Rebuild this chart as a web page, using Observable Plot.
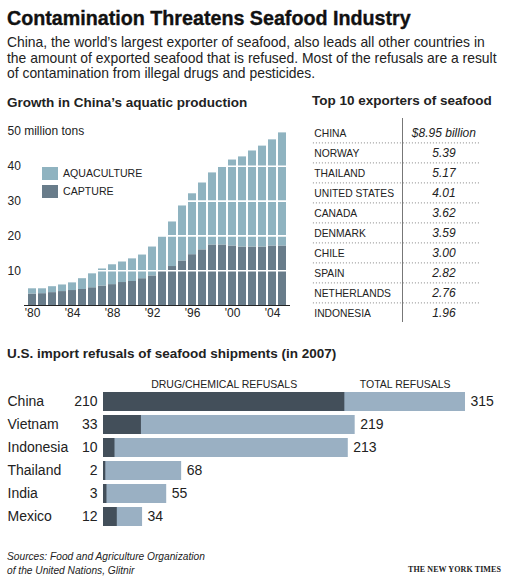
<!DOCTYPE html>
<html>
<head>
<meta charset="utf-8">
<script src="https://cdn.jsdelivr.net/npm/d3@7"></script>
<script src="https://cdn.jsdelivr.net/npm/@observablehq/plot@0.6"></script>
<style>
  body { margin: 0; background: #fff; font-family: "Liberation Sans", Arial, sans-serif; color: #111; }
  #root { position: relative; width: 507px; height: 582px; overflow: hidden; }
  .abs { position: absolute; white-space: nowrap; }
  .title { left: 7px; top: 7px; font-size: 19.7px; font-weight: bold; line-height: 22px; -webkit-text-stroke: 0.35px #111; }
  .sub { left: 7px; top: 35px; font-size: 13.9px; line-height: 15.5px; color: #222; }
  .head { font-size: 13.5px; font-weight: bold; line-height: 16px; color: #222; }
  .leg { font-size: 10.6px; color: #222; line-height: 13px; }
  .sw { display: inline-block; width: 16px; height: 13px; vertical-align: top; margin-right: 5px; }
  .src { left: 7px; top: 550px; font-size: 10.2px; font-style: italic; line-height: 14px; color: #222; }
  .nyt { left: 408px; top: 565px; font-family: "Liberation Serif", "DejaVu Serif", serif; font-size: 8px; font-weight: bold; color: #222; letter-spacing: 0.1px; }
  svg { overflow: visible; }
</style>
</head>
<body>
<div id="root">
  <div class="abs title">Contamination Threatens Seafood Industry</div>
  <div class="abs sub">China, the world’s largest exporter of seafood, also leads all other countries in<br>the amount of exported seafood that is refused. Most of the refusals are a result<br>of contamination from illegal drugs and pesticides.</div>
  <div class="abs head" style="left:7px;top:95px;">Growth in China’s aquatic production</div>
  <div class="abs head" style="left:312px;top:93px;">Top 10 exporters of seafood</div>
  <div class="abs head" style="left:7px;top:346px;">U.S. import refusals of seafood shipments (in 2007)</div>
  <div id="c1" class="abs" style="left:0;top:118px;"></div>
  <div class="abs leg" style="left:42px;top:167px;"><span class="sw" style="background:#8fb3c0"></span>AQUACULTURE</div>
  <div class="abs leg" style="left:42px;top:185px;"><span class="sw" style="background:#687c8a"></span>CAPTURE</div>
  <div id="c2" class="abs" style="left:312px;top:118px;"></div>
  <div id="c3" class="abs" style="left:0;top:369px;"></div>
  <div class="abs src">Sources: Food and Agriculture Organization<br>of the United Nations, Glitnir</div>
  <div class="abs nyt">THE NEW YORK TIMES</div>
</div>
<script>
// ---- Data: China's aquatic production (million tons) ----
const years = [1980,1981,1982,1983,1984,1985,1986,1987,1988,1989,1990,1991,1992,1993,1994,1995,1996,1997,1998,1999,2000,2001,2002,2003,2004,2005];
const totalProduction = [4.8,4.8,5.4,5.9,6.5,7.7,9.1,10.5,11.7,12.5,13.4,14.5,16.8,19.8,24.0,28.6,32.1,35.2,38.1,39.8,41.8,42.7,44.4,45.8,47.6,49.6];
const captureProduction = [3.3,3.4,3.7,4.0,4.3,4.6,5.1,5.6,6.0,6.6,6.9,7.7,8.5,9.9,11.2,12.8,14.6,16.0,17.4,17.4,17.1,16.8,16.8,16.8,17.1,17.1];
const yearTicks = [1980,1984,1988,1992,1996,2000,2004];
const yTicks = [10,20,30,40,50];

// ---- Data: top 10 exporters ----
const exporters = ["CHINA","NORWAY","THAILAND","UNITED STATES","CANADA","DENMARK","CHILE","SPAIN","NETHERLANDS","INDONESIA"];
const exportValues = ["$8.95 billion","5.39","5.17","4.01","3.62","3.59","3.00","2.82","2.76","1.96"];

// ---- Data: US import refusals 2007 ----
const refusalCountries = ["China","Vietnam","Indonesia","Thailand","India","Mexico"];
const drugRefusals = [210,33,10,2,3,12];
const totalRefusals = [315,219,213,68,55,34];

const AQUA = "#8fb3c0", CAPT = "#687c8a", DARK = "#434f5a", LIGHT = "#9ab0c3";

// Chart 1: stacked bars
const prod = [];
years.forEach((y,i) => {
  prod.push({year: y, type: "CAPTURE", value: captureProduction[i]});
  prod.push({year: y, type: "AQUACULTURE", value: +(totalProduction[i] - captureProduction[i]).toFixed(2)});
});
const c1 = Plot.plot({
  width: 300, height: 205,
  marginLeft: 24, marginRight: 10, marginTop: 13, marginBottom: 18,
  style: {fontFamily: "Liberation Sans, Arial, sans-serif", fontSize: "12px", color: "#222", background: "transparent"},
  x: {type: "band", domain: years, padding: 0.17, label: null},
  y: {domain: [0, 50], label: null},
  color: {domain: ["CAPTURE","AQUACULTURE"], range: [CAPT, AQUA]},
  marks: [
    Plot.barY(prod, {x: "year", y: "value", fill: "type", order: ["CAPTURE","AQUACULTURE"]}),
    Plot.ruleY([10,20,30,40], {stroke: "white", strokeWidth: 1.6}),
    Plot.ruleY([0], {stroke: "#222", strokeWidth: 1}),
    Plot.axisX({ticks: yearTicks, tickSize: 0, tickPadding: 3, tickFormat: d => "'" + String(d).slice(2), fontSize: 12}),
    Plot.axisY({ticks: yTicks, tickSize: 0, textAnchor: "start", dx: -17, tickPadding: 0, fontSize: 12,
      tickFormat: d => d === 50 ? "50 million tons" : String(d)})
  ]
});
document.getElementById("c1").appendChild(c1);

// Chart 2: table drawn with Plot text marks
const rows = exporters.map((c,i) => ({country: c, value: exportValues[i], first: i === 0}));
const c2 = Plot.plot({
  width: 180, height: 208,
  marginLeft: 0, marginRight: 0, marginTop: 0, marginBottom: 0,
  style: {fontFamily: "Liberation Sans, Arial, sans-serif", color: "#222", background: "transparent"},
  x: {domain: [-1, 1], axis: null},
  y: {type: "band", domain: exporters, padding: 0, axis: null},
  marks: [
    Plot.ruleY(rows.slice(0, -1), {y: "country", x1: -0.99, x2: 0.87, dy: 10.4, stroke: "#888", strokeDasharray: "1,2", strokeWidth: 1}),
    Plot.ruleX([0], {stroke: "#777", strokeWidth: 1, insetBottom: 4}),
    Plot.text(rows, {x: () => -0.98, y: "country", text: "country", textAnchor: "start", fontSize: 10.3, letterSpacing: "-0.25px",
      fontWeight: d => d.first ? "bold" : "normal", dy: 1}),
    Plot.text(rows, {x: () => 0.46, y: "country", text: "value", textAnchor: "middle", fontSize: 12, fontStyle: "italic",
      fontWeight: d => d.first ? "bold" : "normal", dy: 1})
  ]
});
document.getElementById("c2").appendChild(c2);

// Chart 3: refusals
const refusals = refusalCountries.map((c,i) => ({country: c, drug: drugRefusals[i], total: totalRefusals[i]}));
const c3 = Plot.plot({
  width: 507, height: 175,
  marginLeft: 103, marginRight: 42, marginTop: 16.7, marginBottom: 10.7,
  style: {fontFamily: "Liberation Sans, Arial, sans-serif", color: "#222", background: "transparent"},
  x: {domain: [0, 315], axis: null},
  y: {type: "band", domain: refusalCountries, padding: 0.17, axis: null},
  marks: [
    Plot.barX(refusals, {y: "country", x1: 0, x2: "total", fill: LIGHT}),
    Plot.barX(refusals, {y: "country", x1: 0, x2: "drug", fill: DARK}),
    Plot.text(refusals, {y: "country", text: "country", frameAnchor: "left", dx: -96, textAnchor: "start", fontSize: 14}),
    Plot.text(refusals, {y: "country", x: 0, text: "drug", dx: -6, textAnchor: "end", fontSize: 14}),
    Plot.text(refusals, {y: "country", x: "total", text: "total", dx: 5, textAnchor: "start", fontSize: 14}),
    Plot.text(refusals.slice(0,1), {y: "country", x: d => d.drug / 2, text: () => "DRUG/CHEMICAL REFUSALS", dy: -17, fontSize: 10.5}),
    Plot.text(refusals.slice(0,1), {y: "country", x: d => (d.drug + d.total) / 2, text: () => "TOTAL REFUSALS", dy: -17, fontSize: 10.5})
  ]
});
document.getElementById("c3").appendChild(c3);
</script>
</body>
</html>
